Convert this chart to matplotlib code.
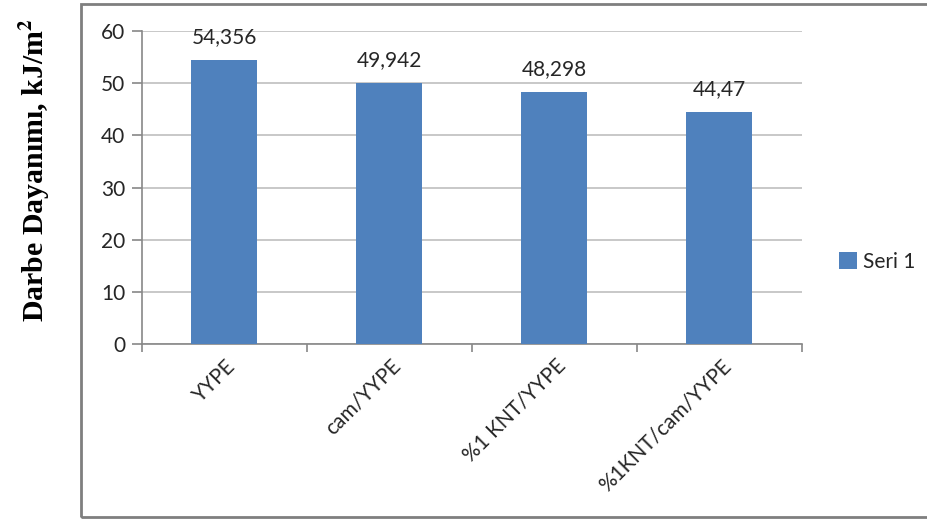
import matplotlib
matplotlib.use('Agg')
import matplotlib.pyplot as plt
from matplotlib.patches import Rectangle

# Data
categories = ['YYPE', 'cam/YYPE', '%1 KNT/YYPE', '%1KNT/cam/YYPE']
values = [54.356, 49.942, 48.298, 44.47]
value_labels = ['54,356', '49,942', '48,298', '44,47']
series_name = 'Seri 1'
yticks = [0, 10, 20, 30, 40, 50, 60]

bar_color = '#4F81BD'
grid_color = '#BFBFBF'
axis_color = '#888888'
text_color = '#262626'
fs = 15

plt.rcParams['font.family'] = ['Lato', 'DejaVu Sans']
plt.rcParams['mathtext.fontset'] = 'stix'

fig = plt.figure(figsize=(9.28, 5.2), dpi=100)
ax = fig.add_axes([142 / 928, 1 - 344 / 520, 660 / 928, 313 / 520])

x = list(range(len(categories)))
ax.bar(x, values, width=0.4, color=bar_color, label=series_name, zorder=3)

# Data labels above the bars
for xi, v, lab in zip(x, values, value_labels):
    ax.text(xi, v + 2.5, lab, ha='center', va='bottom', fontsize=fs, color=text_color, zorder=4)

ax.set_xlim(-0.5, len(categories) - 0.5)
ax.set_ylim(0, 60)
ax.set_yticks(yticks)
ax.set_yticklabels([str(t) for t in yticks], fontsize=fs, color=text_color)
ax.yaxis.grid(True, color=grid_color, linewidth=1.2, zorder=0)
ax.set_axisbelow(True)

# Category ticks sit between bars, labels under the bar centres
ax.set_xticks([i - 0.5 for i in range(len(categories) + 1)])
ax.set_xticklabels([])
ax.tick_params(axis='x', length=6, color=axis_color, width=1.2)
ax.tick_params(axis='y', length=7, color=axis_color, width=1.2, pad=5)
for xi, cat in zip(x, categories):
    ax.text(xi + 0.05, -3.6, cat, rotation=45, rotation_mode='anchor',
            ha='right', va='center', fontsize=fs, color=text_color)

for side in ['top', 'right']:
    ax.spines[side].set_visible(False)
for side in ['left', 'bottom']:
    ax.spines[side].set_color(axis_color)
    ax.spines[side].set_linewidth(1.2)

ax.legend(loc='center left', bbox_to_anchor=(839 / 928, 1 - 262 / 520),
          bbox_transform=fig.transFigure, frameon=False, fontsize=fs,
          handlelength=0.85, handleheight=0.85, handletextpad=0.3,
          borderaxespad=0, borderpad=0, labelcolor=text_color)

# Chart area border (runs off the right edge)
fig.patches.append(Rectangle((81 / 928, 3 / 520), 1.0, 513 / 520,
                             transform=fig.transFigure, fill=False,
                             edgecolor='#7F7F7F', linewidth=2))

# Axis title outside the chart box
fig.text(35 / 928, 1 - 170 / 520, r'Darbe Dayanımı, kJ/m$^{\mathbf{2}}$',
         rotation=90, ha='center', va='center', fontsize=21.5,
         family='Liberation Serif', fontweight='bold', color='black')

fig.savefig('out.png', dpi=100, facecolor='white')
